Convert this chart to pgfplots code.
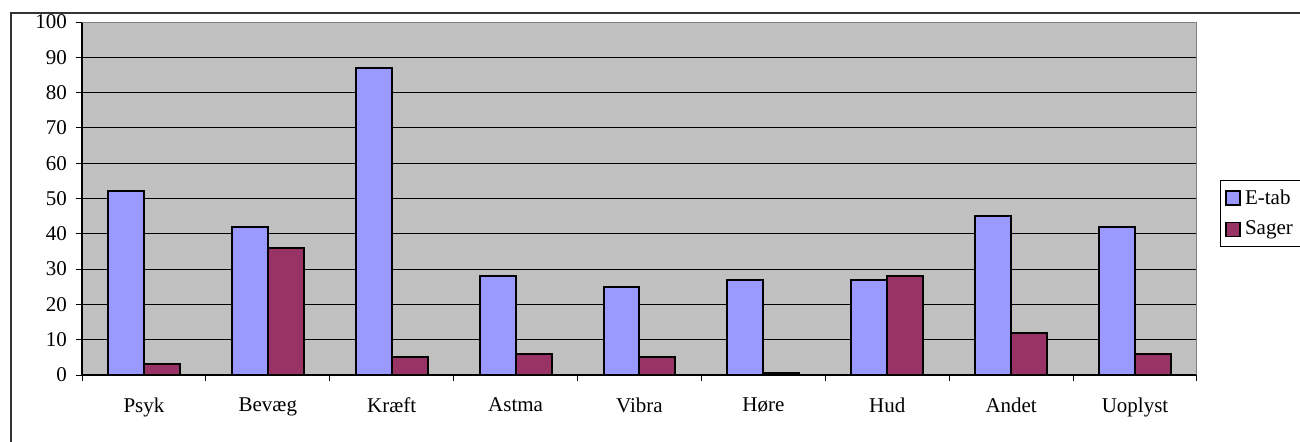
\documentclass[border=0pt]{standalone}
\usepackage{fontspec}
\setmainfont{Liberation Serif}
\usepackage{pgfplots}
\pgfplotsset{compat=1.18}
\definecolor{etab}{HTML}{9999FF}
\definecolor{sager}{HTML}{993366}
\definecolor{plotbg}{HTML}{C0C0C0}
\definecolor{pframe}{HTML}{808080}
\begin{document}
\begin{tikzpicture}
\useasboundingbox (0,0) rectangle (650pt,220.5pt);
\draw[line width=1pt, black!80] (5.25pt,-10pt) rectangle (670pt,214pt);
\begin{axis}[
  at={(41pt,33pt)}, anchor=south west,
  scale only axis, width=557.5pt, height=176.5pt,
  xmin=-0.5, xmax=8.5, ymin=0, ymax=100,
  ytick={0,10,...,100},
  xtick={-0.5,0.5,...,8.5},
  xticklabels={Psyk,Bevæg,Kræft,Astma,Vibra,Høre,Hud,Andet,Uoplyst},
  x tick label as interval,
  ybar=0pt, bar width=0.29,
  axis x line*=bottom, axis y line*=left,
  axis line style={black, line width=0.6pt},
  tick align=outside, major tick length=3pt,
  tick style={black, line width=0.5pt},
  ymajorgrids, grid style={black, line width=0.5pt},
  axis background/.style={fill=plotbg},
  /pgf/number format/assume math mode=true,
  tick label style={font=\fontsize{10.5}{12}\selectfont},
  yticklabel style={xshift=-1pt},
  xticklabel style={yshift=-5pt},
  legend style={at={(1.0206,0.5524)}, anchor=north west, draw=black, line width=0.5pt,
    font=\fontsize{10.5}{12}\selectfont, row sep=3pt, inner sep=2.5pt},
  legend cell align=left,
  legend image code/.code={\draw[#1, line width=0.8pt] (0pt,-3.5pt) rectangle (7pt,3.5pt);},
]
\addplot[draw=black, line width=1pt, fill=etab] coordinates {(0,52) (1,42) (2,87) (3,28) (4,25) (5,27) (6,27) (7,45) (8,42)};
\addplot[draw=black, line width=1pt, fill=sager] coordinates {(0,3) (1,36) (2,5) (3,6) (4,5) (5,0.5) (6,28) (7,12) (8,6)};
\legend{E-tab, Sager}
\draw[pframe, line width=1pt] (rel axis cs:0,1) -- (rel axis cs:1,1) -- (rel axis cs:1,0);
\end{axis}
\end{tikzpicture}
\end{document}
